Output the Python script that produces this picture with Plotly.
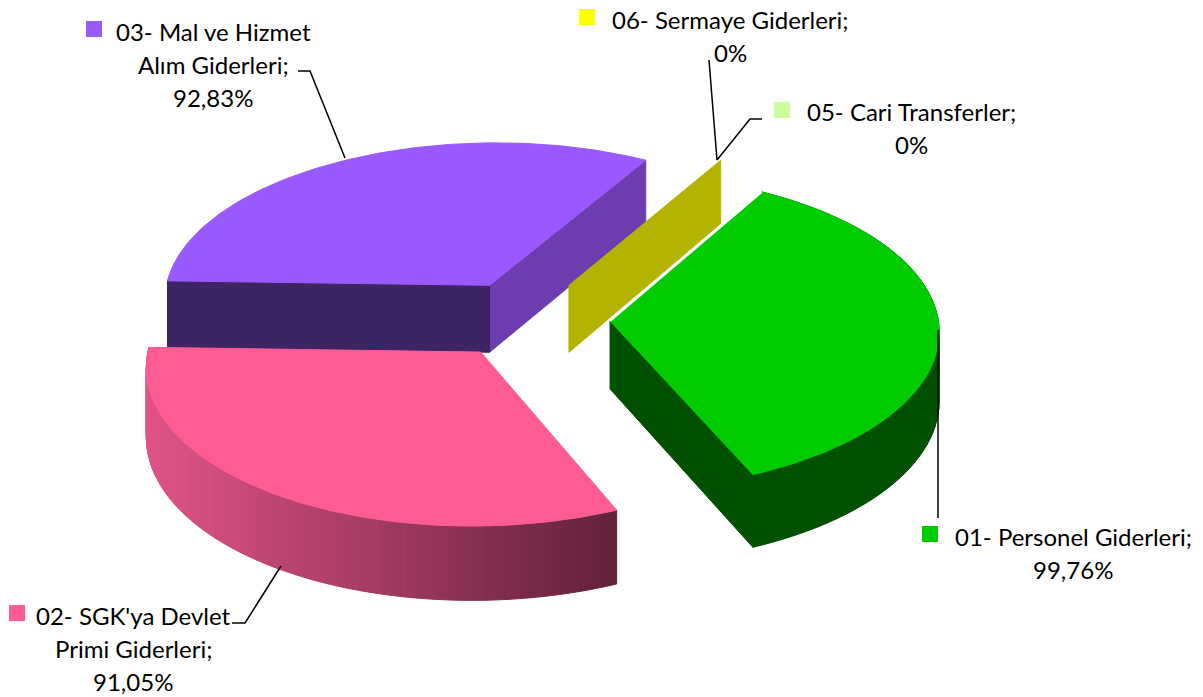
"""Exploded pseudo-3D pie of budget realisation shares, drawn as filled scatter polygons."""
import numpy as np
import plotly.graph_objects as go

# Data
CATEGORIES = ["01- Personel Giderleri", "02- SGK'ya Devlet Primi Giderleri",
              "03- Mal ve Hizmet Alım Giderleri", "05- Cari Transferler",
              "06- Sermaye Giderleri"]
VALUES = [99.76, 91.05, 92.83, 0, 0]
LABEL_LINES = [
    ["01- Personel Giderleri;"],
    ["02- SGK'ya Devlet", "Primi Giderleri;"],
    ["03- Mal ve Hizmet", "Alım Giderleri;"],
    ["05- Cari Transferler;"],
    ["06- Sermaye Giderleri;"],
]

# Styles
TOP_COLORS = ["#00CC00", "#FF5C93", "#9A58FF", "#CCFF99", "#B3B300"]
KEY_COLORS = ["#00CC00", "#FF5C93", "#9A58FF", "#CCFF99", "#FFFF00"]
GREEN_WALL = "#005000"
PURPLE_WALL_DARK = "#3D2463"
PURPLE_WALL_LIGHT = "#6C3DAE"
PINK_WALL_LEFT = np.array([224, 84, 136])
PINK_WALL_RIGHT = np.array([98, 33, 58])

# Label layout: (centre x, first line y), key square (x, y)
LABEL_POS = [(1073, 536), (133, 615), (213, 31), (911, 111), (730, 19)]
KEY_POS = [(930, 534), (17, 613), (94, 29), (782, 110), (587, 17)]
LINE_STEP = 33
FONT = "Lato"
FONT_SIZE = 24

# Leader lines from slice to label
LEADERS = [
    ([938, 938], [330, 518]),
    ([281, 245, 232], [566, 623, 623]),
    ([345, 310, 298], [158, 71, 71]),
    ([717, 750, 762], [160, 119, 119]),
    ([717, 709], [160, 60]),
]

# Projection of the pie: vanishing x, centre y, radii, depth, perspective, pull
VX, VY = 598, 319
RX, RY = 328, 157
DEPTH = 68
PERSP = 0.07
CX0 = -0.213
PULL = 0.25
START_DEG = 60.5


def project(theta, pull_x, pull_y, r=1.0, z=0.0):
    """Map pie angle (radians) and radius to pixel coordinates."""
    xw = CX0 + pull_x + r * np.cos(theta)
    yw = pull_y + r * np.sin(theta)
    s = 1 / (1 + PERSP * yw)
    return VX + RX * xw * s, VY - RY * yw * s + DEPTH * z * s


def polygon(fig, xs, ys, color):
    fig.add_trace(go.Scatter(
        x=list(xs), y=list(ys), mode="lines", fill="toself", fillcolor=color,
        line=dict(color=color, width=1), hoverinfo="skip", showlegend=False,
    ))


def slice_geometry(i):
    spans = np.array(VALUES) / sum(VALUES) * 2 * np.pi
    start = np.radians(START_DEG) - spans[:i].sum()
    end = start - spans[i]
    mid = (start + end) / 2
    return start, end, PULL * np.cos(mid), PULL * np.sin(mid)


def cut_wall(fig, theta, px, py, color):
    ax, ay = project(theta, px, py, r=0)
    bx, by = project(theta, px, py, r=0, z=1)
    rx, ry = project(theta, px, py)
    sx, sy = project(theta, px, py, z=1)
    polygon(fig, [ax, rx, sx, bx, ax], [ay, ry, sy, by, ay], color)


def outer_wall(fig, t0, t1, px, py, color_fn, steps):
    ts = np.linspace(t0, t1, steps + 1)
    for a, b in zip(ts[:-1], ts[1:]):
        x0, y0 = project(a, px, py)
        x1, y1 = project(b, px, py)
        x2, y2 = project(b, px, py, z=1)
        x3, y3 = project(a, px, py, z=1)
        polygon(fig, [x0, x1, x2, x3, x0], [y0, y1, y2, y3, y0], color_fn((x0 + x1) / 2))


def top_face(fig, start, end, px, py, color):
    ts = np.linspace(start, end, 120)
    xs, ys = project(ts, px, py)
    ax, ay = project(start, px, py, r=0)
    polygon(fig, [ax, *xs, ax], [ay, *ys, ay], color)


def pink_shade(x):
    u = np.clip((x - 150) / (618 - 150), 0, 1)
    r, g, b = (PINK_WALL_LEFT + (PINK_WALL_RIGHT - PINK_WALL_LEFT) * u).astype(int)
    return f"rgb({r},{g},{b})"


fig = go.Figure()

# Purple first: it is at the back. Its start angle is the left cut, its end the right one
s, e, px, py = slice_geometry(2)
cut_wall(fig, e, px, py, PURPLE_WALL_LIGHT)
cut_wall(fig, s, px, py, PURPLE_WALL_DARK)
top_face(fig, s, e, px, py, TOP_COLORS[2])

# Zero-valued 06 slice only shows as a wall
s, e, px, py = slice_geometry(4)
cut_wall(fig, s, px, py, TOP_COLORS[4])

# Green, with the white seam along its back edge
s, e, px, py = slice_geometry(0)
cut_wall(fig, e, px, py, GREEN_WALL)
outer_wall(fig, e, s, px, py, lambda x: GREEN_WALL, 60)
top_face(fig, s, e, px, py, TOP_COLORS[0])
ex, ey = project(np.array([s, s]), px, py, r=np.array([0.0, 1.0]))
fig.add_trace(go.Scatter(x=list(ex), y=list(ey), mode="lines", hoverinfo="skip",
                         line=dict(color="white", width=2), showlegend=False))

# Pink in front of the purple wall
s, e, px, py = slice_geometry(1)
outer_wall(fig, e, s, px, py, pink_shade, 200)
top_face(fig, s, e, px, py, TOP_COLORS[1])

for lx, ly in LEADERS:
    fig.add_trace(go.Scatter(x=lx, y=ly, mode="lines", hoverinfo="skip",
                             line=dict(color="black", width=1.5), showlegend=False))

fig.add_trace(go.Scatter(
    x=[p[0] for p in KEY_POS], y=[p[1] for p in KEY_POS], mode="markers",
    marker=dict(symbol="square", size=16, color=KEY_COLORS, line=dict(width=0)),
    hoverinfo="skip", showlegend=False,
))

for value, lines, (lx, ly) in zip(VALUES, LABEL_LINES, LABEL_POS):
    pct = f"{value:.2f}".replace(".", ",") + "%" if value else "0%"
    for n, line in enumerate([*lines, pct]):
        fig.add_annotation(x=lx, y=ly + n * LINE_STEP, text=line, showarrow=False,
                           xanchor="center", yanchor="middle",
                           font=dict(family=FONT, size=FONT_SIZE, color="black"))

fig.update_layout(
    width=1203, height=697,
    margin=dict(l=0, r=0, t=0, b=0),
    paper_bgcolor="white", plot_bgcolor="white",
    xaxis=dict(range=[0, 1203], visible=False, fixedrange=True),
    yaxis=dict(range=[697, 0], visible=False, fixedrange=True),
)

fig.write_html("out.html", config=dict(displayModeBar=False),
               post_script="document.body.style.margin='0';")
